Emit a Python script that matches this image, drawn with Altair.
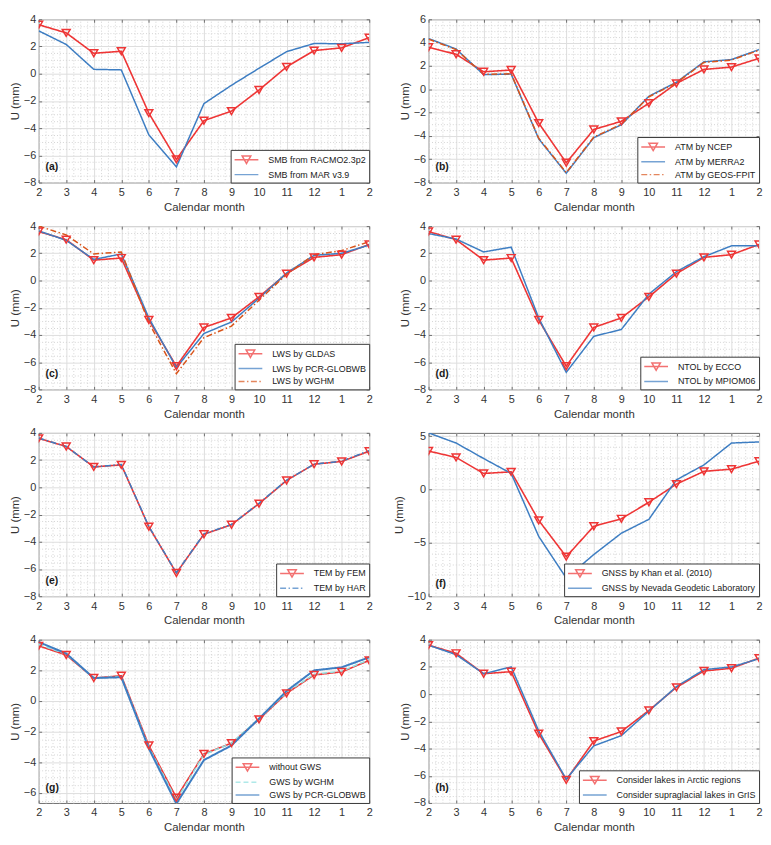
import altair as alt
import pandas as pd
import numpy as np

FONT = "Liberation Sans"

# ---------------- data ----------------
month_labels = ["2", "3", "4", "5", "6", "7", "8", "9", "10", "11", "12", "1", "2"]

u_base = [3.6, 3.0, 1.5, 1.65, -2.9, -6.3, -3.45, -2.75, -1.2, 0.5, 1.7, 1.9, 2.65]
u_smb_mar = [3.15, 2.15, 0.32, 0.28, -4.5, -6.85, -2.2, -0.85, 0.4, 1.62, 2.22, 2.2, 2.3]
u_atm_merra2 = [4.35, 3.45, 1.25, 1.3, -4.25, -7.2, -4.15, -3.05, -0.6, 0.6, 2.35, 2.55, 3.4]
u_atm_geos = [4.3, 3.4, 1.28, 1.33, -4.2, -7.15, -4.1, -3.0, -0.65, 0.55, 2.3, 2.5, 3.35]
u_lws_pcr = [3.65, 2.95, 1.55, 1.95, -2.75, -6.4, -3.9, -3.05, -1.3, 0.55, 1.85, 2.0, 2.6]
u_lws_wghm = [4.0, 3.35, 1.95, 2.1, -3.1, -6.85, -4.2, -3.35, -1.45, 0.45, 1.9, 2.2, 2.85]
u_ntol_mpiom = [3.45, 3.05, 2.1, 2.45, -2.75, -6.75, -4.1, -3.6, -1.0, 0.65, 1.75, 2.55, 2.55]
u_tem_har = [3.62, 3.0, 1.5, 1.68, -2.88, -6.28, -3.43, -2.73, -1.18, 0.52, 1.7, 1.92, 2.7]
u_gnss_ngl = [5.3, 4.35, 2.9, 1.5, -4.4, -8.3, -6.1, -4.1, -2.8, 0.9, 2.3, 4.35, 4.45]
u_gws_wghm = [3.7, 3.05, 1.5, 1.6, -3.0, -6.45, -3.5, -2.75, -1.15, 0.55, 1.75, 1.95, 2.7]
u_gws_pcr = [3.85, 3.1, 1.5, 1.55, -3.1, -6.7, -3.85, -2.9, -1.15, 0.65, 2.0, 2.2, 2.85]
u_lakes_supra = [3.6, 2.9, 1.5, 2.0, -2.7, -6.25, -3.8, -3.05, -1.25, 0.55, 1.8, 2.0, 2.6]

# ---------------- styles ----------------
RED = "#EE3535"
BLUE = "#3D7DC2"
ORANGE = "#D9541A"
CYAN = "#8EE0E0"
SOLID = [1, 0]
DASHDOT = [6, 2.5, 1.5, 2.5]
DASHED = [5, 3]
AX = "#6e6e6e"
TXT = "#333333"

LINE_SYM = "M-2,0L2,0"
TRI_SYM = "M-2,0L2,0M-0.72,-0.62L0.72,-0.62L0,0.62Z"

W, H = 334, 165

panels_spec = [
    dict(tag="(a)", names=["SMB from RACMO2.3p2", "SMB from MAR v3.9"],
         values=[u_base, u_smb_mar], colors=[RED, BLUE], dashes=[SOLID, SOLID],
         widths=[1.6, 1.5], ydomain=[-8, 4], yticks=[-8, -6, -4, -2, 0, 2, 4], minor=0.5),
    dict(tag="(b)", names=["ATM by NCEP", "ATM by MERRA2", "ATM by GEOS-FPIT"],
         values=[u_base, u_atm_merra2, u_atm_geos], colors=[RED, BLUE, ORANGE],
         dashes=[SOLID, SOLID, DASHDOT], widths=[1.6, 1.5, 1.5],
         ydomain=[-8, 6], yticks=[-8, -6, -4, -2, 0, 2, 4, 6], minor=0.5),
    dict(tag="(c)", names=["LWS by GLDAS", "LWS by PCR-GLOBWB", "LWS by WGHM"],
         values=[u_base, u_lws_pcr, u_lws_wghm], colors=[RED, BLUE, ORANGE],
         dashes=[SOLID, SOLID, DASHDOT], widths=[1.6, 1.5, 1.5],
         ydomain=[-8, 4], yticks=[-8, -6, -4, -2, 0, 2, 4], minor=0.5),
    dict(tag="(d)", names=["NTOL by ECCO", "NTOL by MPIOM06"],
         values=[u_base, u_ntol_mpiom], colors=[RED, BLUE], dashes=[SOLID, SOLID],
         widths=[1.6, 1.5], ydomain=[-8, 4], yticks=[-8, -6, -4, -2, 0, 2, 4], minor=0.5),
    dict(tag="(e)", names=["TEM by FEM", "TEM by HAR"],
         values=[u_base, u_tem_har], colors=[RED, BLUE], dashes=[SOLID, DASHDOT],
         widths=[1.6, 1.5], ydomain=[-8, 4], yticks=[-8, -6, -4, -2, 0, 2, 4], minor=0.5),
    dict(tag="(f)", names=["GNSS by Khan et al. (2010)", "GNSS by Nevada Geodetic Laboratory"],
         values=[u_base, u_gnss_ngl], colors=[RED, BLUE], dashes=[SOLID, SOLID],
         widths=[1.6, 1.5], ydomain=[-10, 5.3], yticks=[-10, -5, 0, 5], minor=1.0),
    dict(tag="(g)", names=["without GWS", "GWS by WGHM", "GWS by PCR-GLOBWB"],
         values=[u_base, u_gws_wghm, u_gws_pcr], colors=[RED, CYAN, BLUE],
         dashes=[SOLID, DASHED, SOLID], widths=[1.6, 1.5, 2.0],
         ydomain=[-6.65, 4], yticks=[-6, -4, -2, 0, 2, 4], minor=0.5),
    dict(tag="(h)", names=["Consider lakes in Arctic regions", "Consider supraglacial lakes in GrIS"],
         values=[u_base, u_lakes_supra], colors=[RED, BLUE], dashes=[SOLID, SOLID],
         widths=[1.6, 1.5], ydomain=[-8, 4], yticks=[-8, -6, -4, -2, 0, 2, 4], minor=0.5),
]

label_expr = "[" + ",".join("'%s'" % s for s in month_labels) + "][datum.value]"


def minor_values(lo, hi, step, majors):
    start = np.ceil(lo / step) * step
    vals = np.arange(start, hi + 1e-9, step)
    return [round(float(v), 4) for v in vals if all(abs(v - m) > 1e-6 for m in majors)]


def make_panel(p):
    names = p["names"]
    rows = []
    for name, vals in zip(names, p["values"]):
        for i, v in enumerate(vals):
            rows.append({"series": name, "m": i, "u": v})
    df = pd.DataFrame(rows)

    n = len(month_labels)
    xmajor = list(range(n))
    xminor = minor_values(0, n - 1, 0.25, xmajor)
    ymajor = p["yticks"]
    yminor = minor_values(p["ydomain"][0], p["ydomain"][1], p["minor"], ymajor)

    xscale = alt.Scale(domain=[0, n - 1], nice=False, zero=False)
    yscale = alt.Scale(domain=p["ydomain"], nice=False, zero=False)

    def X(axis):
        return alt.X("m:Q", scale=xscale, axis=axis)

    def Y(axis):
        return alt.Y("u:Q", scale=yscale, axis=axis)

    ax_x_main = alt.Axis(orient="bottom", values=xmajor, labelExpr=label_expr,
                         title="Calendar month", grid=True, gridColor="#dedede",
                         ticks=False, domain=False, labelFlush=False, labelOverlap=False,
                         labelPadding=4, titlePadding=4)
    ax_y_main = alt.Axis(orient="left", values=ymajor, title="U (mm)", grid=True,
                         gridColor="#dedede", ticks=False, domain=False,
                         labelPadding=3, titlePadding=3, labelOverlap=False)
    ax_x_minor = alt.Axis(orient="top", values=xminor, grid=True, gridColor="#d4d4d4",
                          gridDash=[1, 2], labels=False, ticks=False, domain=False, title=None)
    ax_y_minor = alt.Axis(orient="right", values=yminor, grid=True, gridColor="#d4d4d4",
                          gridDash=[1, 2], labels=False, ticks=False, domain=False, title=None)

    def tick_axis(orient, vals):
        return alt.Axis(orient=orient, values=vals, grid=False, labels=False, ticks=True,
                        tickSize=3, tickColor=AX, tickWidth=1, domain=False, title=None,
                        offset=-3)

    leg = alt.Legend(title=None, orient="bottom-right", offset=0, padding=3,
                     fillColor="white", strokeColor="#3a3a3a", labelFont=FONT,
                     labelFontSize=9, labelColor="#1a1a1a", symbolSize=144,
                     symbolStrokeWidth=1.5, rowPadding=1, symbolOffset=6, labelOffset=15,
                     labelLimit=400, symbolFillColor="transparent")
    color = alt.Color("series:N", scale=alt.Scale(domain=names, range=p["colors"]), legend=leg)
    dash = alt.StrokeDash("series:N", scale=alt.Scale(domain=names, range=p["dashes"]), legend=leg)
    shapes = [TRI_SYM] + [LINE_SYM] * (len(names) - 1)
    shape = alt.Shape("series:N", scale=alt.Scale(domain=names, range=shapes), legend=leg)

    layers = []
    for k, name in enumerate(names):
        lay = (alt.Chart(df)
               .transform_filter(alt.datum.series == name)
               .mark_line(clip=True, strokeWidth=p["widths"][k])
               .encode(x=X(ax_x_main if k == 0 else None),
                       y=Y(ax_y_main if k == 0 else None),
                       color=color, strokeDash=dash))
        layers.append(lay)
        if k == 0:
            pts = (alt.Chart(df)
                   .transform_filter(alt.datum.series == name)
                   .mark_point(shape="triangle-down", filled=False, size=64,
                               strokeWidth=1.5, clip=True, opacity=1)
                   .encode(x=X(ax_x_minor), y=Y(ax_y_minor), color=alt.value(RED)))
    layers.append(pts)
    legend_layer = (alt.Chart(df).transform_filter("false").mark_point(filled=False)
                    .encode(x=X(tick_axis("bottom", xmajor)), y=Y(tick_axis("left", ymajor)),
                            color=color, strokeDash=dash, shape=shape))
    top_ticks = (alt.Chart(df).transform_filter("false").mark_point()
                 .encode(x=X(tick_axis("top", xmajor)), y=Y(tick_axis("right", ymajor))))
    layers += [legend_layer, top_ticks]

    return (alt.layer(*layers)
            .resolve_axis(x="independent", y="independent")
            .properties(width=W, height=H,
                        title=alt.TitleParams(text=p["tag"], orient="top", anchor="start",
                                              frame="group", baseline="bottom", offset=0,
                                              dx=7, dy=H + 6, font=FONT, fontSize=10.5,
                                              fontWeight="bold", color="#1a1a1a")))


panels = [make_panel(p) for p in panels_spec]

chart = (alt.concat(*panels, columns=2, spacing={"row": 44, "column": 60}, bounds="flush")
         .resolve_scale(color="independent", strokeDash="independent", shape="independent",
                        x="independent", y="independent")
         .resolve_legend(color="independent", strokeDash="independent", shape="independent")
         .properties(padding=0, background="white")
         .configure_view(stroke=AX, strokeWidth=1)
         .configure_axis(labelFont=FONT, titleFont=FONT, labelFontSize=11, titleFontSize=11.5,
                         labelColor=TXT, titleColor=TXT, titleFontWeight="normal"))

chart.save("out.html", embed_options={"renderer": "svg", "actions": False})
